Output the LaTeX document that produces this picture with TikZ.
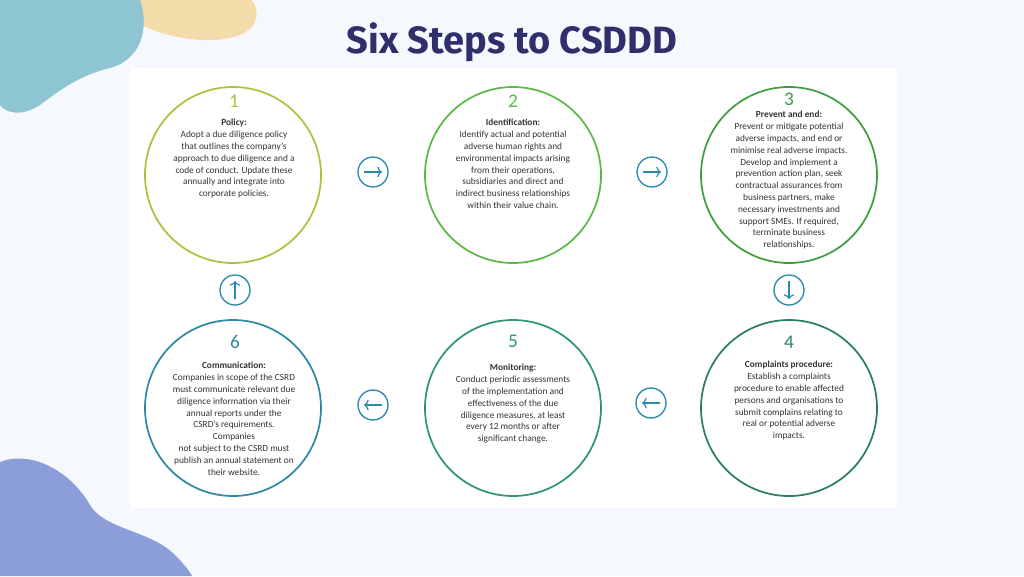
\documentclass[tikz,border=0pt]{standalone}
\usepackage{fontspec}
\setmainfont{Carlito}
\newfontfamily\titlefont{Fira Sans}
\usetikzlibrary{arrows.meta}
\definecolor{bg}{HTML}{F5F9FD}
\definecolor{blobA}{HTML}{8EC5D2}
\definecolor{blobB}{HTML}{F4DBAA}
\definecolor{blobC}{HTML}{8C9EDA}
\definecolor{titlec}{HTML}{2E2F6B}
\definecolor{cA}{HTML}{A9C43C}
\definecolor{cB}{HTML}{5DB84A}
\definecolor{cC}{HTML}{3F9E3F}
\definecolor{cD}{HTML}{2B7F5E}
\definecolor{cE}{HTML}{2E9478}
\definecolor{cF}{HTML}{2C8AA5}
\definecolor{arc}{HTML}{2A8AAE}
\definecolor{txt}{HTML}{333333}
\tikzset{
  big/.style={circle,draw,line width=1.3pt,minimum size=176\pxu,inner sep=0pt},
  num/.style={font=\fontsize{14.5}{14.5}\selectfont},
  body/.style={align=center,font=\fontsize{7}{8.85}\selectfont,text=txt,anchor=north,inner sep=0pt},
  sm/.style={circle,draw=arc,line width=1pt,minimum size=30\pxu,inner sep=0pt},
  arr/.style={draw=arc,line width=0.9pt,-{To[length=3.5pt,width=8pt]}}
}
\newlength\pxu
\setlength\pxu{0.75pt}
\begin{document}
\begin{tikzpicture}[x=0.75pt,y=-0.75pt]
\useasboundingbox (0,0) rectangle (1024,576);
\fill[bg] (0,0) rectangle (1024,576);
\fill[blobB] (105,0) .. controls (130,30) and (200,50) .. (240,35) .. controls (262,25) and (258,8) .. (252,0) -- cycle;
\fill[blobA] (0,0) -- (140,0) .. controls (150,30) and (140,60) .. (110,68) .. controls (80,75) and (60,90) .. (40,105) .. controls (20,118) and (5,112) .. (0,105) -- cycle;
\fill[blobC] (0,462) .. controls (30,450) and (70,470) .. (90,505) .. controls (105,530) and (150,530) .. (175,555) .. controls (185,565) and (190,572) .. (192,576) -- (0,576) -- cycle;
\fill[white] (130,68) rectangle (897,508);
\node[font=\titlefont\bfseries\fontsize{28.5}{28.5}\selectfont,text=titlec] (title) at (512,42) {Six Steps to CSDDD};

\node[big,draw=cA] (c1) at (233,175) {};
\node[big,draw=cB] (c2) at (513,175) {};
\node[big,draw=cC] (c3) at (789,175) {};
\node[big,draw=cD] (c4) at (789,408) {};
\node[big,draw=cE] (c5) at (513,408) {};
\node[big,draw=cF] (c6) at (233,408) {};

\node[num,text=cA] (n1) at (234,101) {1};
\node[num,text=cB] (n2) at (513,101) {2};
\node[num,text=cC] (n3) at (789,99) {3};
\node[num,text=cD] (n4) at (789,342) {4};
\node[num,text=cE] (n5) at (513,341) {5};
\node[num,text=cF] (n6) at (235,342) {6};

\node[body] (t1) at (234,119) {\textbf{Policy:}\\Adopt a due diligence policy\\that outlines the company’s\\approach to due diligence and a\\code of conduct. Update these\\annually and integrate into\\corporate policies.};
\node[body] (t2) at (513,119) {\textbf{Identification:}\\Identify actual and potential\\adverse human rights and\\environmental impacts arising\\from their operations,\\subsidiaries and direct and\\indirect business relationships\\within their value chain.};
\node[body] (t3) at (789,111) {\textbf{Prevent and end:}\\Prevent or mitigate potential\\adverse impacts, and end or\\minimise real adverse impacts.\\Develop and implement a\\prevention action plan, seek\\contractual assurances from\\business partners, make\\necessary investments and\\support SMEs. If required,\\terminate business\\relationships.};
\node[body] (t4) at (789,361) {\textbf{Complaints procedure:}\\Establish a complaints\\procedure to enable affected\\persons and organisations to\\submit complains relating to\\real or potential adverse\\impacts.};
\node[body] (t5) at (513,364) {\textbf{Monitoring:}\\Conduct periodic assessments\\of the implementation and\\effectiveness of the due\\diligence measures, at least\\every 12 months or after\\significant change.};
\node[body] (t6) at (234,362) {\textbf{Communication:}\\Companies in scope of the CSRD\\must communicate relevant due\\diligence information via their\\annual reports under the\\CSRD’s requirements.\\Companies\\not subject to the CSRD must\\publish an annual statement on\\their website.};

\node[sm] (a12) at (373,172) {};
\node[sm] (a23) at (652,172) {};
\node[sm] (a34) at (789,290) {};
\node[sm] (a45) at (651,403) {};
\node[sm] (a56) at (373,405) {};
\node[sm] (a61) at (235,290) {};
\draw[arr] ([xshift=-9\pxu]a12.center) -- ([xshift=9\pxu]a12.center);
\draw[arr] ([xshift=-9\pxu]a23.center) -- ([xshift=9\pxu]a23.center);
\draw[arr] ([yshift=9\pxu]a34.center) -- ([yshift=-9\pxu]a34.center);
\draw[arr] ([xshift=9\pxu]a45.center) -- ([xshift=-9\pxu]a45.center);
\draw[arr] ([xshift=9\pxu]a56.center) -- ([xshift=-9\pxu]a56.center);
\draw[arr] ([yshift=-9\pxu]a61.center) -- ([yshift=9\pxu]a61.center);
\end{tikzpicture}
\end{document}
